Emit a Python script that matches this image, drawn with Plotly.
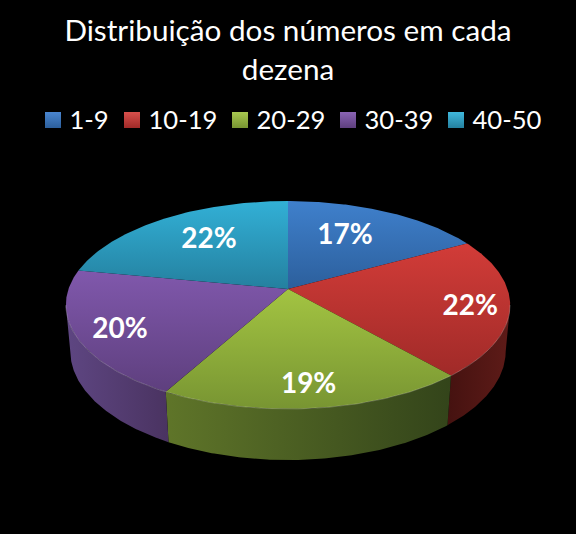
import math
import numpy as np
import plotly.graph_objects as go

# --- data ---
categories = ["1-9", "10-19", "20-29", "30-39", "40-50"]
shares = [17.0, 21.6, 19.4, 20.0, 22.0]
labels = ["17%", "22%", "19%", "20%", "22%"]
title_text = "Distribuição dos números em cada<br>dezena"

# --- styles ---
face_light = ["#3f80cc", "#d23c38", "#a3c442", "#8058ac", "#32b0d6"]
face_dark = ["#2c5f9c", "#a02a28", "#789532", "#5e3f7e", "#24809f"]
wall_left = ["#1d3f68", "#451210", "#5f7529", "#5e4682", "#1a5a70"]
wall_right = ["#1d3f68", "#5e1b18", "#33441a", "#4a3361", "#1a5a70"]
swatch = ["#4a86d0", "#d8504c", "#a8c850", "#8a64b4", "#40b8dc"]
label_reach = [0.623, 0.827, 0.836, 0.818, 0.641]
label_turn = [-3.7, 2.5, 0.5, -3.2, 2.3]
legend_left = [53, 132, 240, 348, 456]
LEGEND_Y = 120
LEGEND_TEXT_DX, LEGEND_TEXT_DY = 16.5, 3

# --- projection of the tilted disc onto the page ---
CX, CY, RX, RY, TILT = 288.0, 289.0, 219.5, 101.5, 0.154
DEPTH, SHRINK = 46.6, 0.02


def project(theta, reach=1.0, lowered=False):
    u = np.sin(theta) * reach
    v = -np.cos(theta) * reach
    w = 1 - TILT * v + (SHRINK if lowered else 0)
    drop = DEPTH if lowered else 0
    return CX + RX * u / w, CY + (RY * v + drop) / w


edges = np.cumsum([0] + shares) / sum(shares) * 2 * math.pi
fig = go.Figure()

# side walls: only the front arc, between the two tangent points of the outline
front_start = math.acos(-TILT)
front_end = 2 * math.pi - front_start
for i in range(len(shares)):
    a, b = max(edges[i], front_start), min(edges[i + 1], front_end)
    if a >= b:
        continue
    t = np.linspace(a, b, 120)
    xt, yt = project(t)
    xb, yb = project(t, lowered=True)
    fig.add_trace(go.Scatter(
        x=np.concatenate([xt, xb[::-1]]), y=np.concatenate([yt, yb[::-1]]),
        mode="lines", fill="toself", line=dict(width=0), showlegend=False, hoverinfo="skip",
        fillgradient=dict(type="horizontal",
                          colorscale=[[0, wall_left[i]], [1, wall_right[i]]])))

# top faces (plotly's vertical gradient runs with the reversed page axis)
for i in range(len(shares)):
    t = np.linspace(edges[i], edges[i + 1], 120)
    xt, yt = project(t)
    fig.add_trace(go.Scatter(
        x=np.concatenate([[CX], xt, [CX]]), y=np.concatenate([[CY], yt, [CY]]),
        mode="lines", fill="toself", line=dict(width=0), showlegend=False, hoverinfo="skip",
        fillgradient=dict(type="vertical",
                          colorscale=[[0, face_dark[i]], [1, face_light[i]]])))

# thin highlight along the front rim
t = np.linspace(front_start, front_end, 200)
xr, yr = project(t)
fig.add_trace(go.Scatter(x=xr, y=yr, mode="lines", showlegend=False, hoverinfo="skip",
                         line=dict(width=1, color="rgba(255,255,255,0.22)")))

# value labels
mids = (edges[:-1] + edges[1:]) / 2
lx, ly = zip(*[project(m + math.radians(d), r) for m, d, r in zip(mids, label_turn, label_reach)])
fig.add_trace(go.Scatter(x=list(lx), y=list(ly), text=labels, mode="text", showlegend=False,
                         hoverinfo="skip", textposition="middle center",
                         textfont=dict(family="Lato", size=28, color="white", weight="bold")))

# legend row
for name, colour, base, left in zip(categories, swatch, face_dark, legend_left):
    fig.add_trace(go.Scatter(
        x=[left], y=[LEGEND_Y], mode="markers", showlegend=False, hoverinfo="skip",
        marker=dict(symbol="square", size=16, color=colour,
                    gradient=dict(type="vertical", color=base),
                    line=dict(width=0))))
    fig.add_trace(go.Scatter(
        x=[left + LEGEND_TEXT_DX], y=[LEGEND_Y + LEGEND_TEXT_DY], mode="text", name=name,
        text=[name], showlegend=False, textposition="middle right", hoverinfo="skip",
        textfont=dict(family="Lato", size=25.6, color="white")))

fig.update_layout(
    width=576, height=534, autosize=False,
    margin=dict(l=0, r=0, t=0, b=0),
    paper_bgcolor="black", plot_bgcolor="black",
    font=dict(family="Lato", color="white"),
    title=dict(text=title_text, x=0.5, xanchor="center", y=0.923, yanchor="top",
               font=dict(family="Lato", size=29.7, color="white")),
    showlegend=False,
    xaxis=dict(range=[0, 576], visible=False, fixedrange=True),
    yaxis=dict(range=[534, 0], visible=False, fixedrange=True),
)
fig.write_html("out.html", config=dict(displayModeBar=False),
               post_script="document.body.style.margin='0';document.body.style.background='black';")
